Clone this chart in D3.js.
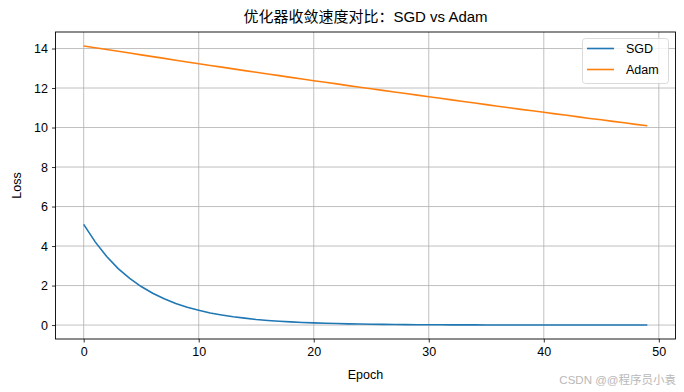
<!DOCTYPE html>
<html><head><meta charset="utf-8">
<script src="https://cdn.jsdelivr.net/npm/d3@7"></script>
<style>
body{margin:0;background:#fff;}
text{font-family:"Liberation Sans","Noto Sans CJK SC",Arial,sans-serif;}
</style></head>
<body><svg id="c" width="684" height="392"></svg>
<script>
const epochs = d3.range(0, 50);
const sgdLoss = [5.10,4.21,3.47,2.86,2.36,1.95,1.61,1.33,1.09,0.90,0.75,0.61,0.51,0.42,0.35,0.28,0.23,0.19,0.16,0.13,0.11,0.09,0.075,0.062,0.051,0.042,0.035,0.029,0.024,0.019,0.016,0.013,0.011,0.009,0.0075,0.006,0.005,0.0042,0.0035,0.0029,0.0024,0.002,0.0016,0.0013,0.0011,0.0009,0.0007,0.0006,0.0005,0.0004];
const adamLoss = [14.13,14.04,13.95,13.86,13.77,13.68,13.59,13.50,13.41,13.32,13.23,13.14,13.06,12.97,12.88,12.80,12.71,12.63,12.54,12.46,12.37,12.29,12.21,12.12,12.04,11.96,11.88,11.80,11.72,11.64,11.56,11.48,11.40,11.32,11.24,11.16,11.08,11.00,10.92,10.85,10.77,10.69,10.62,10.54,10.46,10.39,10.31,10.24,10.16,10.09];
const xTicks = [0,10,20,30,40,50];
const yTicks = [0,2,4,6,8,10,12,14];
const seriesNames = ["SGD","Adam"];
const colors = ["#1f77b4","#ff7f0e"];
const titleText = "优化器收敛速度对比：SGD vs Adam";

const svg = d3.select("#c");
const L=55.5, R=675.5, T=32, B=339;
const xs = [0,49]; const xm = (xs[1]-xs[0])*0.05;
const allY = sgdLoss.concat(adamLoss);
const ymin = d3.min(allY), ymax = d3.max(allY), ym=(ymax-ymin)*0.05;
const x = d3.scaleLinear().domain([xs[0]-xm, xs[1]+xm]).range([L,R]);
const y = d3.scaleLinear().domain([ymin-ym, ymax+ym]).range([B,T]);

const g = svg.append("g");
g.selectAll(".gx").data(xTicks).join("line").attr("x1",d=>x(d)).attr("x2",d=>x(d)).attr("y1",T).attr("y2",B).attr("stroke","#b0b0b0").attr("stroke-width",0.8);
g.selectAll(".gy").data(yTicks).join("line").attr("y1",d=>y(d)).attr("y2",d=>y(d)).attr("x1",L).attr("x2",R).attr("stroke","#b0b0b0").attr("stroke-width",0.8);

const line = d3.line().x((d,i)=>x(epochs[i])).y(d=>y(d));
[sgdLoss, adamLoss].forEach((s,k)=>{
  g.append("path").datum(s).attr("d",line).attr("fill","none").attr("stroke",colors[k]).attr("stroke-width",1.6);
});

const xa = svg.append("g").attr("transform",`translate(0,${B})`).call(d3.axisBottom(x).tickValues(xTicks).tickSize(3.5).tickPadding(5));
const ya = svg.append("g").attr("transform",`translate(${L},0)`).call(d3.axisLeft(y).tickValues(yTicks).tickSize(3.5).tickPadding(4));
[xa,ya].forEach(a=>{a.select(".domain").remove();a.selectAll("text").attr("font-size",12.5).attr("fill","#000").attr("font-family","Liberation Sans, Arial, sans-serif");a.selectAll("line").attr("stroke","#000").attr("stroke-width",0.8);});
svg.append("rect").attr("x",L).attr("y",T).attr("width",R-L).attr("height",B-T).attr("fill","none").attr("stroke","#000").attr("stroke-width",0.9);

svg.append("text").attr("x",(L+R)/2).attr("y",22).attr("text-anchor","middle").attr("font-size",15).text(titleText);
svg.append("text").attr("x",(L+R)/2).attr("y",379).attr("text-anchor","middle").attr("font-size",12.5).text("Epoch");
svg.append("text").attr("transform",`translate(21,${(T+B)/2}) rotate(-90)`).attr("text-anchor","middle").attr("font-size",12.5).text("Loss");

const lg = svg.append("g");
lg.append("rect").attr("x",582.5).attr("y",38.5).attr("width",86).attr("height",45).attr("rx",3).attr("fill","#fff").attr("fill-opacity",0.8).attr("stroke","#d0d0d0").attr("stroke-width",0.8);
seriesNames.forEach((n,i)=>{
  const yy = 48.5 + i*21;
  lg.append("line").attr("x1",587).attr("x2",614).attr("y1",yy).attr("y2",yy).attr("stroke",colors[i]).attr("stroke-width",1.6);
  lg.append("text").attr("x",626).attr("y",yy+4.5).attr("font-size",12.5).text(n);
});

svg.append("text").attr("x",676).attr("y",384).attr("text-anchor","end").attr("font-size",11.5).attr("fill","#b8b8b8").text("CSDN @@程序员小袁");
</script></body></html>
